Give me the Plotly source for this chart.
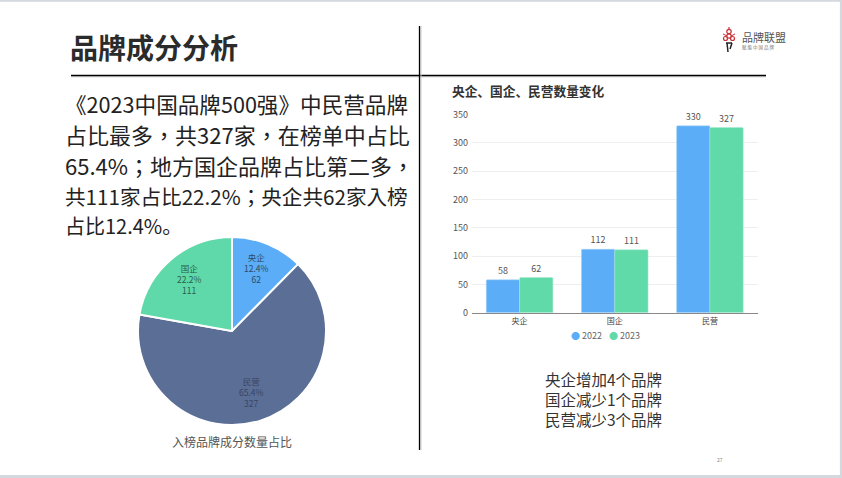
import math
import plotly.graph_objects as go

W, H = 842, 478
FONT = "Noto Sans CJK SC"
BODY_FONT = "Noto Sans CJK TC"

categories = ["央企", "国企", "民营"]
values_2022 = [58, 112, 330]
values_2023 = [62, 111, 327]
share_labels = ["央企", "民营", "国企"]
share_values = [62, 327, 111]
share_colors = ["#5AADF6", "#5B6E96", "#5FD9A9"]
share_text_colors = ["#2C4A66", "#3A4560", "#2B5E4C"]
y_ticks = [0, 50, 100, 150, 200, 250, 300, 350]
body_lines = [
    "《2023中国品牌500强》中民营品牌",
    "占比最多，共327家，在榜单中占比",
    "65.4%；地方国企品牌占比第二多，",
    "共111家占比22.2%；央企共62家入榜",
    "占比12.4%。",
]
note_lines = ["央企增加4个品牌", "国企减少1个品牌", "民营减少3个品牌"]

def px(x):
    return x / W

def py(y):
    return 1 - y / H

fig = go.Figure()
PIE_CX, PIE_CY, PIE_R = 232, 331, 94
fig.add_trace(go.Pie(
    labels=share_labels, values=share_values, sort=False, direction="clockwise", rotation=0,
    marker=dict(colors=share_colors, line=dict(color="white", width=2)),
    textinfo="none",
    domain=dict(x=[px(PIE_CX - PIE_R), px(PIE_CX + PIE_R)], y=[py(PIE_CY + PIE_R), py(PIE_CY - PIE_R)]),
    showlegend=False, hoverinfo="skip",
))
fig.add_trace(go.Bar(x=categories, y=values_2022, name="2022", marker_color="#5AADF6",
                     text=values_2022, textposition="outside", showlegend=False,
                     marker_line=dict(color="#A9D5F8", width=0.5)))
fig.add_trace(go.Bar(x=categories, y=values_2023, name="2023", marker_color="#61DAAA",
                     text=values_2023, textposition="outside", showlegend=False,
                     marker_line=dict(color="#A9EBD0", width=0.5)))

ann = []
def text(x, y, s, size, color="#1a1a1a", anchor="left", bold=False, family=FONT):
    ann.append(dict(x=px(x), y=py(y), xref="paper", yref="paper", text=f"<b>{s}</b>" if bold else s,
                    showarrow=False, xanchor=anchor, yanchor="middle",
                    font=dict(size=size, color=color, family=family), borderpad=0, borderwidth=0))

text(70, 47, "品牌成分分析", 28, "#2B2B2B", bold=True)
body_fonts = [BODY_FONT, BODY_FONT, BODY_FONT, BODY_FONT, FONT]
for line_text, y, size, fam in zip(body_lines, [103.5, 133.5, 164.5, 195.5, 225.5],
                                   [21.6, 22, 22, 20.6, 20], body_fonts):
    text(65, y, line_text, size, "#222222", family=fam)
text(452, 91, "央企、国企、民营数量变化", 12.7, "#333333", bold=True)
text(603, 398.5, "<br>".join(note_lines), 15.5, "#333333", anchor="center")
text(232, 441, "入榜品牌成分数量占比", 12, "#555555", anchor="center")
text(720, 459, "27", 5, "#888888", anchor="center")
text(742, 37, "品牌联盟", 11, "#555555")
text(742, 47, "赋 能 中 国 品 牌", 4.5, "#777777")
text(571, 335, "<span style='color:#5AADF6;font-size:9px'>●</span> 2022", 9, "#666666")
text(609, 335, "<span style='color:#61DAAA;font-size:9px'>●</span> 2023", 9, "#666666")

# pie labels sit at 70% of the radius on each slice's mid-angle
total = sum(share_values)
cum = 0
for lab, val, col in zip(share_labels, share_values, share_text_colors):
    mid = (cum + val / 2) / total * 2 * math.pi
    cum += val
    x = PIE_CX + 0.7 * PIE_R * math.sin(mid)
    y = PIE_CY - 0.7 * PIE_R * math.cos(mid) - 2
    text(x, y, f"{lab}<br>{val / total:.1%}<br>{val}", 8.5, col, anchor="center")

def line(x0, y0, x1, y1, color, width):
    return dict(type="line", xref="paper", yref="paper", x0=px(x0), y0=py(y0), x1=px(x1), y1=py(y1),
                line=dict(color=color, width=width), layer="below")

def ring(cx, cy, r, color="#C8333A", width=1.2):
    return dict(type="circle", xref="paper", yref="paper", x0=px(cx - r), x1=px(cx + r),
                y0=py(cy + r), y1=py(cy - r), line=dict(color=color, width=width), layer="below")

shapes = [
    line(0, 0.8, W, 0.8, "#D3D9DF", 2),
    line(0, 476.5, W, 476.5, "#D3D9DF", 3),
    line(841, 0, 841, H, "#D3D9DF", 2.2),
    line(71, 76.8, 766, 76.8, "#C8C8C8", 1),
    line(71, 75.5, 766, 75.5, "#000000", 1.3),
    line(421, 26, 421, 450, "#CCCCCC", 1),
    line(419.5, 26, 419.5, 450, "#000000", 1.3),
    # logo glyph
    ring(729, 31.5, 2.2), ring(729, 36, 2.2), ring(725.5, 38.5, 2), ring(732.5, 38.5, 2),
    line(729, 27, 729, 29, "#C8333A", 1.2),
    line(723, 34, 727, 36, "#C8333A", 1), line(735, 34, 731, 36, "#C8333A", 1),
    line(726, 43, 732, 43, "#222222", 1.5),
    line(727, 43, 728, 52, "#222222", 1.5), line(732, 43, 730, 49, "#222222", 1.5),
]

fig.update_layout(
    width=W, height=H, margin=dict(l=0, r=0, t=0, b=0, autoexpand=False), autosize=False,
    paper_bgcolor="white", plot_bgcolor="rgba(0,0,0,0)",
    barmode="group", bargap=0.3, bargroupgap=0, showlegend=False,
    font=dict(family=FONT, size=8.5, color="#555555"),
    shapes=shapes, annotations=ann,
    xaxis=dict(domain=[px(472), px(757.5)], anchor="y", showline=True, linecolor="#888888", linewidth=1,
               ticks="", tickfont=dict(size=8, color="#444444"), fixedrange=True, showgrid=False,
               ticklabelstandoff=1),
    yaxis=dict(domain=[py(312.7), py(114.5)], anchor="x", range=[0, 350], tickvals=y_ticks,
               gridcolor="#EEEEEE", gridwidth=1, zeroline=False, showline=False,
               tickfont=dict(size=9, color="#555555"), ticks="", fixedrange=True,
               ticklabelstandoff=3),
    hovermode=False,
)
fig.update_traces(selector=dict(type="bar"), cliponaxis=False, textfont=dict(size=9, color="#555555"), marker_cornerradius=1)
fig.write_html("out.html", config=dict(displayModeBar=False),
               post_script="document.body.style.margin='0';document.body.style.overflow='hidden';")
